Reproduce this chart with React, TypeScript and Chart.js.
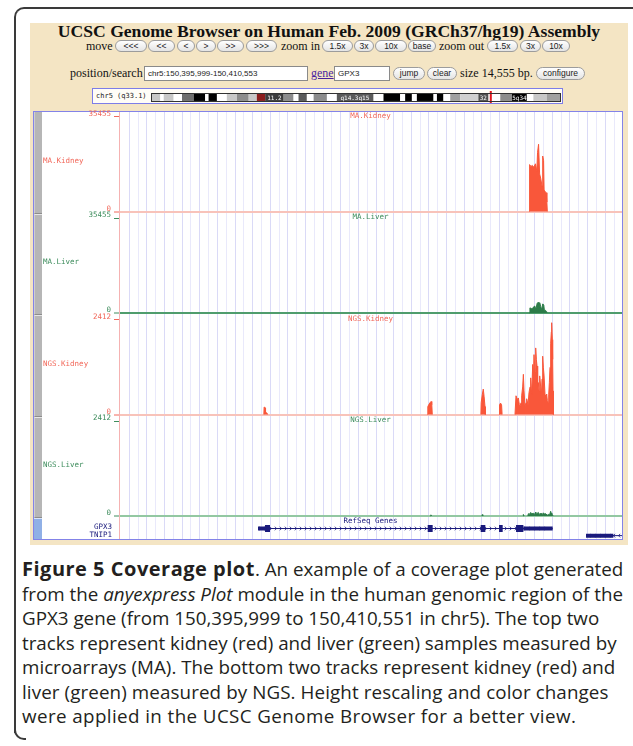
import React, { useEffect, useRef } from "react";
import { Chart, registerables } from "chart.js";

Chart.register(...registerables);

// ---------------- genomic region ----------------
const REGION_START = 150395999;
const REGION_END = 150410553;
const GRID_FIRST = 150396297;
const GRID_STEP = 255;

// ---------------- coverage tracks ----------------
const TRACK_NAMES = ["MA.Kidney", "MA.Liver", "NGS.Kidney", "NGS.Liver"];
const TRACK_MAX = [35455, 35455, 2412, 2412];

// positions are bp offsets from REGION_START
const MA_KIDNEY_POS = [11870, 11880, 11920, 11960, 12000, 12050, 12090, 12110, 12140, 12170, 12200, 12240, 12260, 12285, 12300, 12330, 12360, 12380, 12395];
const MA_KIDNEY_VAL = [0, 17500, 16800, 17200, 16500, 17800, 15000, 22000, 25100, 14000, 12500, 9500, 20700, 19000, 8000, 7500, 7000, 3500, 0];

const MA_LIVER_POS = [11880, 11890, 11930, 11960, 11990, 12030, 12060, 12100, 12130, 12150, 12175, 12200, 12230, 12260, 12290, 12310, 12340, 12370, 12385];
const MA_LIVER_VAL = [0, 1900, 1700, 1500, 2200, 2600, 1400, 3600, 4000, 2000, 3800, 2500, 1200, 3400, 3000, 800, 1000, 600, 0];

const NGS_KIDNEY_POS = [
  4190, 4200, 4230, 4240, 4280, 4300,
  8925, 8935, 8970, 9000, 9030, 9050, 9066,
  10470, 10480, 10510, 10540, 10565, 10590, 10600,
  11000, 11010, 11040, 11070, 11085,
  11458, 11487, 11526, 11555, 11584, 11603, 11632, 11651, 11680, 11700, 11719, 11748, 11777, 11796, 11835,
  11864, 11893, 11912, 11941, 11970, 11989, 12008, 12037, 12057, 12076, 12095, 12114, 12134, 12153, 12172,
  12201, 12221, 12240, 12259, 12278, 12298, 12327, 12346, 12375, 12394, 12413, 12433, 12452, 12471, 12490,
  12510, 12519, 12539, 12548, 12558, 12568,
];
const NGS_KIDNEY_VAL = [
  0, 190, 170, 50, 40, 0,
  0, 200, 260, 300, 330, 250, 0,
  0, 300, 500, 645, 450, 200, 0,
  0, 250, 290, 240, 0,
  0, 475, 380, 420, 250, 200, 300, 475, 700, 1020, 600, 200, 300, 400, 250,
  560, 700, 930, 500, 1270, 900, 1520, 1100, 1690, 1400, 1230, 700, 810, 600, 980,
  700, 475, 900, 1480, 1200, 1000, 500, 400, 520, 350, 310, 500, 810, 1200, 1810,
  2100, 2330, 1900, 1400, 600, 0,
];

const NGS_LIVER_POS = [
  9015, 9025, 9040, 10500, 10512, 10525,
  11690, 11700, 11720, 11830, 11844, 11870, 11912, 11940, 11988, 12020, 12057, 12090, 12134, 12170,
  12211, 12250, 12278, 12310, 12346, 12390, 12422, 12460, 12490, 12505, 12519, 12540, 12560,
];
const NGS_LIVER_VAL = [
  0, 30, 0, 0, 35, 0,
  0, 40, 0, 0, 60, 40, 90, 50, 70, 40, 100, 60, 90, 40,
  70, 40, 80, 50, 60, 20, 40, 30, 120, 50, 80, 30, 0,
];

const TRACK_POS = [MA_KIDNEY_POS, MA_LIVER_POS, NGS_KIDNEY_POS, NGS_LIVER_POS];
const TRACK_VAL = [MA_KIDNEY_VAL, MA_LIVER_VAL, NGS_KIDNEY_VAL, NGS_LIVER_VAL];

// ---------------- RefSeq genes ----------------
const GENE_NAMES = ["GPX3", "TNIP1"];
const GENE_TX_START = [4022, 13513];
const GENE_TX_END = [12548, 14555];
const GENE_STRAND = ["+", "-"];
const GENE_ROW = [5, 1.6];

const EXON_GENE = [0, 0, 0, 0, 0];
const EXON_START = [4225, 8932, 10465, 10996, 11488];
const EXON_END = [4369, 9076, 10600, 11102, 11700];

const UTR_GENE = [0, 0, 1];
const UTR_START = [4022, 11700, 13513];
const UTR_END = [4225, 12548, 14304];

// ---------------- chromosome ideogram (Mb) ----------------
const CHR_LENGTH = 181;
const BAND_EDGES = [0, 3.7, 5.2, 9.6, 13.3, 18.5, 23.6, 25.1, 28.8, 33.2, 37.7, 42.9, 46.5, 50.2, 58.4, 62.8, 65, 68.7, 71.7, 77.6, 82, 98.3, 102.7, 110.1, 112.3, 115.3, 117.5, 124.9, 126.4, 129.3, 132.3, 136.7, 144.8, 149.3, 154.5, 159.7, 166.3, 169.2, 175.1, 181];
const BAND_SHADE = ["#c8c8c8", "#ffffff", "#c8c8c8", "#ffffff", "#6e6e6e", "#000000", "#ffffff", "#000000", "#ffffff", "#c8c8c8", "#8c8c8c", "#c8c8c8", "#8b1d1d", "#3c3c3c", "#8c8c8c", "#ffffff", "#5a5a5a", "#ffffff", "#8c8c8c", "#ffffff", "#5a5a5a", "#ffffff", "#000000", "#ffffff", "#000000", "#ffffff", "#000000", "#ffffff", "#000000", "#ffffff", "#a0a0a0", "#d0d0d0", "#505050", "#ffffff", "#8c8c8c", "#000000", "#ffffff", "#c8c8c8", "#a0a0a0"];
const BAND_LABELS = ["11.2", "q14.3q15", "32", "5q34"];
const BAND_LABEL_POS = [54.3, 90, 147, 163];
const VIEW_MARK = [150.0, 150.6];

// ---------------- styling ----------------
const KIDNEY_FILL = "#f9573a";
const LIVER_FILL = "#2c7c49";
const TRACK_FILL = [KIDNEY_FILL, LIVER_FILL, KIDNEY_FILL, LIVER_FILL];
const TRACK_TEXT = ["#f2685a", "#3e8d5d", "#f2685a", "#3e8d5d"];
const TRACK_ZERO = ["#f8c3ba", "#4f9d6d", "#f8c3ba", "#93c8a2"];
const GENE_COLOR = "#1a1a7c";
const MONO = '"DejaVu Sans Mono", monospace';

const CANVAS_LEFT = 34;
const CANVAS_TOP = 104;
const CANVAS_W = 588;
const CANVAS_H = 435;
const PAD_TOP = 8;
const AXIS_W = 85;
const TRACK_H = 101.5;
const GENE_H = 21;
const VAL_TOP_PAD = 4.5;
const VAL_BOTTOM_PAD = 2;
const Y_IDS = ["yMAK", "yMAL", "yNGK", "yNGL"];

const IDEO_LEFT = 152;
const IDEO_TOP = 91;
const IDEO_W = 408;
const IDEO_H = 12;

function fitAxis(s: any) {
  s.width = AXIS_W;
  s.paddingTop = 0;
  s.paddingBottom = 0;
  s.paddingLeft = 0;
  s.paddingRight = 0;
}

function blockDataset(starts: number[], ends: number[], genes: number[], width: number) {
  const data: any[] = [];
  starts.forEach((s, i) => {
    const row = GENE_ROW[genes[i]];
    data.push({ x: REGION_START + s, y: row }, { x: REGION_START + ends[i], y: row }, { x: REGION_START + ends[i], y: null });
  });
  return {
    type: "line",
    data,
    yAxisID: "yGenes",
    borderColor: GENE_COLOR,
    backgroundColor: GENE_COLOR,
    borderWidth: width,
    borderCapStyle: "butt",
    pointRadius: 0,
    fill: false,
    spanGaps: false,
  };
}

const chevronPlugin = {
  id: "chevrons",
  beforeDatasetsDraw(chart: any) {
    const xs = chart.scales.x;
    const ys = chart.scales.yGenes;
    const ctx = chart.ctx;
    ctx.save();
    ctx.strokeStyle = GENE_COLOR;
    ctx.lineWidth = 0.8;
    GENE_NAMES.forEach((_, g) => {
      const py = ys.getPixelForValue(GENE_ROW[g]);
      const x0 = xs.getPixelForValue(REGION_START + GENE_TX_START[g]);
      const x1 = Math.min(xs.getPixelForValue(REGION_START + GENE_TX_END[g]), chart.chartArea.right);
      const d = GENE_STRAND[g] === "+" ? 1 : -1;
      for (let px = x0 + 3; px < x1 - 2; px += 5) {
        ctx.beginPath();
        ctx.moveTo(px - d * 1.2, py - 1.8);
        ctx.lineTo(px + d * 0.6, py);
        ctx.lineTo(px - d * 1.2, py + 1.8);
        ctx.stroke();
      }
    });
    ctx.restore();
  },
};

function Btn({ x, y, w, h = 12, t }: { x: number; y: number; w: number; h?: number; t: string }) {
  return (
    <div
      style={{
        position: "absolute",
        left: x,
        top: y,
        width: w,
        height: h,
        boxSizing: "border-box",
        border: "1px solid #9c9c9c",
        borderRadius: h / 2,
        background: "linear-gradient(#ffffff, #e4e4e4)",
        font: '8.5px "Liberation Sans", sans-serif',
        color: "#222",
        display: "flex",
        alignItems: "center",
        justifyContent: "center",
        lineHeight: 1,
        whiteSpace: "nowrap",
      }}
    >
      {t}
    </div>
  );
}

function Txt({ x, y, t, size = 12, color = "#111", extra = {} }: any) {
  return (
    <div
      style={{
        position: "absolute",
        left: x,
        top: y,
        font: `${size}px "Liberation Serif", serif`,
        lineHeight: `${size}px`,
        color,
        whiteSpace: "nowrap",
        ...extra,
      }}
    >
      {t}
    </div>
  );
}

function Input({ x, y, w, t }: { x: number; y: number; w: number; t: string }) {
  return (
    <div
      style={{
        position: "absolute",
        left: x,
        top: y,
        width: w,
        height: 15,
        boxSizing: "border-box",
        border: "1px solid #8a8a8a",
        background: "#fff",
        font: '8px "Liberation Sans", sans-serif',
        color: "#222",
        paddingLeft: 3,
        lineHeight: "13px",
        whiteSpace: "nowrap",
      }}
    >
      {t}
    </div>
  );
}

export default function App() {
  const trackRef = useRef<HTMLCanvasElement>(null);
  const ideoRef = useRef<HTMLCanvasElement>(null);

  useEffect(() => {
    const charts: Chart[] = [];

    // ---- tracks chart ----
    const datasets: any[] = [];
    datasets.push(blockDataset(EXON_START, EXON_END, EXON_GENE, 7));
    datasets.push(blockDataset(UTR_START, UTR_END, UTR_GENE, 4));
    datasets.push(blockDataset(GENE_TX_START, GENE_TX_END, [0, 1], 1));
    TRACK_NAMES.forEach((name, i) => {
      const color = TRACK_FILL[i];
      datasets.push({
        type: "line",
        label: name,
        data: TRACK_POS[i].map((p, k) => ({ x: REGION_START + p, y: TRACK_VAL[i][k] })),
        yAxisID: Y_IDS[i],
        borderColor: color,
        backgroundColor: color,
        borderWidth: 1,
        pointRadius: 0,
        tension: 0,
        fill: "origin",
        segment: {
          borderColor: (c: any) => (c.p0.parsed.y === 0 && c.p1.parsed.y === 0 ? "rgba(0,0,0,0)" : color),
        },
      });
    });

    const scales: any = {
      x: {
        type: "linear",
        position: "bottom",
        min: REGION_START,
        max: REGION_END,
        afterBuildTicks: (s: any) => {
          const t: any[] = [];
          for (let v = GRID_FIRST; v <= REGION_END; v += GRID_STEP) t.push({ value: v });
          s.ticks = t;
        },
        afterFit: (s: any) => {
          s.height = 0;
          s.paddingLeft = 0;
          s.paddingRight = 0;
        },
        ticks: { display: false },
        grid: {
          drawTicks: false,
          lineWidth: 1,
          color: (ctx: any) => (ctx.index % 2 ? "#e9e9fb" : "#dadaf7"),
        },
        border: { display: false },
      },
    };

    TRACK_NAMES.forEach((_, i) => {
      const max = TRACK_MAX[i];
      const span = TRACK_H - VAL_TOP_PAD - VAL_BOTTOM_PAD;
      scales[Y_IDS[i]] = {
        type: "linear",
        position: "left",
        stack: "tracks",
        stackWeight: TRACK_H,
        weight: 10 - i,
        min: (-max * VAL_BOTTOM_PAD) / span,
        max: max + (max * VAL_TOP_PAD) / span,
        afterBuildTicks: (s: any) => {
          s.ticks = [{ value: 0 }, { value: max }];
        },
        afterFit: fitAxis,
        ticks: {
          autoSkip: false,
          color: TRACK_TEXT[i],
          font: { family: MONO, size: 7.5 },
          padding: 3,
          labelOffset: -2.5,
          callback: (v: any) => String(v),
        },
        grid: {
          drawTicks: true,
          tickLength: 5,
          tickWidth: 1,
          tickColor: TRACK_TEXT[i],
          lineWidth: (ctx: any) => (ctx.tick && ctx.tick.value === 0 ? 2 : 1),
          color: (ctx: any) => (ctx.tick && ctx.tick.value === 0 ? TRACK_ZERO[i] : "rgba(0,0,0,0)"),
        },
        border: { display: true, color: "#f5b2b2", width: 1 },
      };
    });

    scales.yGenes = {
      type: "linear",
      position: "left",
      stack: "tracks",
      stackWeight: GENE_H,
      weight: 1,
      min: 0,
      max: 10,
      afterFit: fitAxis,
      ticks: { display: false },
      grid: { display: false },
      border: { display: true, color: "#f5b2b2", width: 1 },
    };

    if (trackRef.current) {
      charts.push(
        new Chart(trackRef.current, {
          type: "line",
          data: { datasets },
          options: {
            responsive: false,
            animation: false,
            layout: { padding: { top: PAD_TOP, left: 0, right: 0, bottom: 0 } },
            scales,
            plugins: { legend: { display: false }, tooltip: { enabled: false } },
          },
          plugins: [chevronPlugin],
        } as any)
      );
    }

    // ---- ideogram chart ----
    const bandData = BAND_SHADE.map((_, i) => ({ y: "chr5", x: [BAND_EDGES[i], BAND_EDGES[i + 1]] }));
    if (ideoRef.current) {
      charts.push(
        new Chart(ideoRef.current, {
          type: "bar",
          data: {
            labels: ["chr5"],
            datasets: [
              {
                data: [{ y: "chr5", x: VIEW_MARK }],
                backgroundColor: "#e3161c",
                barPercentage: 1,
                categoryPercentage: 1,
                grouped: false,
                borderWidth: 0,
              },
              {
                data: bandData,
                backgroundColor: BAND_SHADE,
                barPercentage: 0.66,
                categoryPercentage: 1,
                grouped: false,
                borderWidth: 0,
              },
            ],
          },
          options: {
            indexAxis: "y",
            responsive: false,
            animation: false,
            layout: { padding: 0 },
            scales: {
              x: { type: "linear", min: 0, max: CHR_LENGTH, display: false },
              y: { type: "category", display: false },
            },
            plugins: { legend: { display: false }, tooltip: { enabled: false } },
          },
        } as any)
      );
    }

    return () => charts.forEach((c) => c.destroy());
  }, []);

  const trackTop = (i: number) => CANVAS_TOP + PAD_TOP + i * TRACK_H;
  const dataLeft = CANVAS_LEFT + AXIS_W;
  const dataRight = CANVAS_LEFT + CANVAS_W;
  const dataCenter = (dataLeft + dataRight) / 2;
  const genesTop = trackTop(4);

  return (
    <div style={{ position: "absolute", left: 0, top: 0, width: 633, height: 746, background: "#fff", overflow: "hidden" }}>
      {/* frame */}
      <div style={{ position: "absolute", left: 14, top: 7, width: 640, height: 726, boxSizing: "border-box", borderTop: "2px solid #3a3a3a", borderLeft: "2px solid #3a3a3a", borderTopLeftRadius: 10 }} />
      <div style={{ position: "absolute", left: 14, top: 728, width: 12, height: 12, boxSizing: "border-box", borderLeft: "2px solid #3a3a3a", borderBottom: "2px solid #3a3a3a", borderBottomLeftRadius: 10 }} />

      {/* browser screenshot background */}
      <div style={{ position: "absolute", left: 30, top: 23, width: 598, height: 522, background: "#f4e5c4" }} />

      {/* title */}
      <div style={{ position: "absolute", left: 30, top: 22, width: 598, textAlign: "center", font: 'bold 17.6px "Liberation Serif", serif', lineHeight: "18px", color: "#111", whiteSpace: "nowrap" }}>
        UCSC Genome Browser on Human Feb. 2009 (GRCh37/hg19) Assembly
      </div>

      {/* navigation row */}
      <Txt x={86} y={40} t="move" />
      <Btn x={115} y={40} w={32} t="<<<" />
      <Btn x={148} y={40} w={27} t="<<" />
      <Btn x={177} y={40} w={18} t="<" />
      <Btn x={196} y={40} w={20} t=">" />
      <Btn x={217} y={40} w={27} t=">>" />
      <Btn x={246} y={40} w={31} t=">>>" />
      <Txt x={281} y={40} t="zoom in" />
      <Btn x={322} y={40} w={31} t="1.5x" />
      <Btn x={354} y={40} w={20} t="3x" />
      <Btn x={375} y={40} w={32} t="10x" />
      <Btn x={408} y={40} w={28} t="base" />
      <Txt x={439} y={40} t="zoom out" />
      <Btn x={487} y={40} w={31} t="1.5x" />
      <Btn x={520} y={40} w={21} t="3x" />
      <Btn x={542} y={40} w={28} t="10x" />

      {/* position row */}
      <Txt x={70} y={67} t="position/search" />
      <Input x={144} y={66} w={164} t="chr5:150,395,999-150,410,553" />
      <Txt x={311} y={67} t="gene" color="#4b1fa0" extra={{ textDecoration: "underline" }} />
      <Input x={334} y={66} w={56} t="GPX3" />
      <Btn x={393} y={67} w={32} h={13} t="jump" />
      <Btn x={427} y={67} w={30} h={13} t="clear" />
      <Txt x={460} y={67} t="size 14,555 bp." />
      <Btn x={536} y={67} w={49} h={13} t="configure" />

      {/* ideogram */}
      <div style={{ position: "absolute", left: 92, top: 88, width: 471, height: 16, boxSizing: "border-box", border: "1px solid #7d7de8", background: "#fffdf7" }} />
      <div style={{ position: "absolute", left: 96, top: 92, font: `7px ${MONO}`, lineHeight: "8px", color: "#222", whiteSpace: "nowrap" }}>chr5 (q33.1)</div>
      <canvas ref={ideoRef} width={IDEO_W} height={IDEO_H} style={{ position: "absolute", left: IDEO_LEFT, top: IDEO_TOP, width: IDEO_W, height: IDEO_H }} />
      <div style={{ position: "absolute", left: IDEO_LEFT - 1, top: 93, width: IDEO_W + 2, height: 9, boxSizing: "border-box", border: "1px solid #333" }} />
      {BAND_LABELS.map((l, i) => (
        <div key={l} style={{ position: "absolute", left: IDEO_LEFT + (BAND_LABEL_POS[i] / CHR_LENGTH) * IDEO_W, top: 94, transform: "translateX(-50%)", font: `6px ${MONO}`, lineHeight: "7px", color: "#fff", whiteSpace: "nowrap" }}>
          {l}
        </div>
      ))}

      {/* track box */}
      <div style={{ position: "absolute", left: 33, top: 111, width: 590, height: 429, boxSizing: "border-box", border: "1px solid #8383e8", background: "#fff" }} />
      {[0, 1, 2, 3].map((i) => (
        <div key={"strip" + i} style={{ position: "absolute", left: 34, top: trackTop(i), width: 8, height: TRACK_H, boxSizing: "border-box", background: "#b6b6b6", borderTop: i ? "1px solid #e6e6e6" : "none", borderBottom: "1px solid #8c8c8c", borderLeft: "1px solid #cfcfcf" }} />
      ))}
      <div style={{ position: "absolute", left: 34, top: genesTop, width: 8, height: GENE_H, boxSizing: "border-box", background: "#90b0e6", borderTop: "1px solid #d8e4f8" }} />

      <canvas ref={trackRef} width={CANVAS_W} height={CANVAS_H} style={{ position: "absolute", left: CANVAS_LEFT, top: CANVAS_TOP, width: CANVAS_W, height: CANVAS_H }} />

      {TRACK_NAMES.map((n, i) => (
        <React.Fragment key={n}>
          <div style={{ position: "absolute", left: 43, top: trackTop(i) + 44.5, font: `7.5px ${MONO}`, lineHeight: "8px", color: TRACK_TEXT[i], whiteSpace: "nowrap" }}>{n}</div>
          <div style={{ position: "absolute", left: dataCenter, top: trackTop(i) - 0.5, transform: "translateX(-50%)", font: `7.5px ${MONO}`, lineHeight: "8px", color: TRACK_TEXT[i], whiteSpace: "nowrap" }}>{n}</div>
        </React.Fragment>
      ))}
      <div style={{ position: "absolute", left: dataCenter, top: genesTop - 1, transform: "translateX(-50%)", font: `7.5px ${MONO}`, lineHeight: "8px", color: GENE_COLOR, whiteSpace: "nowrap" }}>RefSeq Genes</div>
      {GENE_NAMES.map((g, i) => (
        <div key={g} style={{ position: "absolute", right: 633 - 112, top: genesTop + 5 + i * 8, font: `7.5px ${MONO}`, lineHeight: "8px", color: GENE_COLOR, whiteSpace: "nowrap" }}>{g}</div>
      ))}

      {/* caption */}
      <div style={{ position: "absolute", left: 22, top: 557, font: '18.8px "Open Sans", sans-serif', lineHeight: "24.5px", color: "#231f20", whiteSpace: "nowrap" }}>
        <div><b style={{ fontSize: 20, letterSpacing: 0.5 }}>Figure 5 Coverage plot</b>. An example of a coverage plot generated</div>
        <div>from the <i>anyexpress Plot</i> module in the human genomic region of the</div>
        <div>GPX3 gene (from 150,395,999 to 150,410,551 in chr5). The top two</div>
        <div>tracks represent kidney (red) and liver (green) samples measured by</div>
        <div>microarrays (MA). The bottom two tracks represent kidney (red) and</div>
        <div style={{ letterSpacing: 0.1 }}>liver (green) measured by NGS. Height rescaling and color changes</div>
        <div style={{ letterSpacing: 0.4 }}>were applied in the UCSC Genome Browser for a better view.</div>
      </div>
    </div>
  );
}
